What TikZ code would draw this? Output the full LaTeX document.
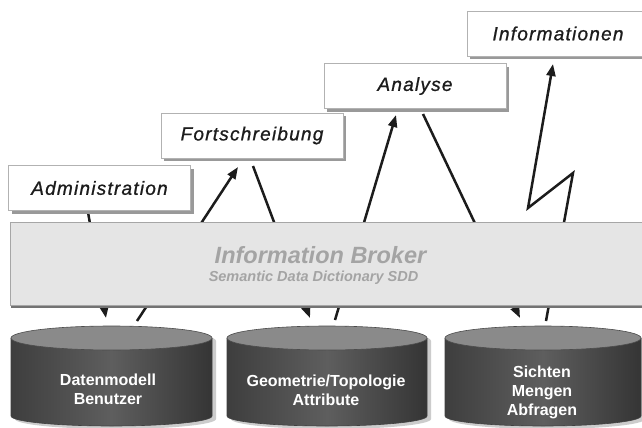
\documentclass[tikz,border=0pt]{standalone}
\usepackage{fontspec}
\setmainfont{Liberation Sans}
\newfontfamily\lblfont[LetterSpace=6.5, FakeBold=0.9]{Liberation Sans}
\usetikzlibrary{arrows.meta,shadows}

\definecolor{inkdark}{HTML}{1C1C1C}
\definecolor{brokerfill}{HTML}{E5E5E5}
\definecolor{brokertext}{HTML}{A4A4A4}
\definecolor{dbtop}{HTML}{8A8A8A}
\definecolor{dbmid}{HTML}{5E5E5E}
\definecolor{dbedge}{HTML}{3E3E3E}

% one database cylinder: #1 = centre x, #2 = half width
\newcommand\datastore[2]{%
  \fill[black!20, shift={(4,3)}]
    (#1-#2,338) -- (#1-#2,416)
    arc[start angle=180, end angle=360, x radius=#2pt, y radius=10pt]
    -- (#1+#2,338) arc[start angle=0, end angle=180, x radius=#2pt, y radius=12pt] -- cycle;
  \shade[left color=dbedge, right color=dbedge!85!black, middle color=dbmid]
    (#1-#2,338) -- (#1-#2,416)
    arc[start angle=180, end angle=360, x radius=#2pt, y radius=10pt]
    -- (#1+#2,338) -- cycle;
  \draw[black!75, line width=0.6pt]
    (#1-#2,338) -- (#1-#2,416)
    arc[start angle=180, end angle=360, x radius=#2pt, y radius=10pt]
    -- (#1+#2,338);
  \filldraw[fill=dbtop, draw=black!70, line width=0.6pt]
    (#1,338) ellipse[x radius=#2pt, y radius=12pt];
}

\begin{document}
\begin{tikzpicture}[x=1pt, y=-1pt,
  taskbox/.style={draw=black!30, line width=0.6pt, fill=white,
    minimum width=182pt, minimum height=45pt, inner sep=0pt,
    font=\lblfont\itshape\fontsize{19}{22}\selectfont, text=inkdark,
    drop shadow={shadow xshift=3pt, shadow yshift=-3pt, fill=black!40, opacity=1}},
  brokerbox/.style={draw=black!35, line width=0.6pt, fill=brokerfill,
    minimum width=650pt, minimum height=83pt, inner sep=0pt,
    drop shadow={shadow xshift=1pt, shadow yshift=-3pt, fill=black!55, opacity=1}},
  flow/.style={line width=2.5pt, draw=inkdark, line join=miter, miter limit=4},
  tip/.style={-{Triangle[length=12pt,width=9pt]}},
  dbtext/.style={font=\bfseries\fontsize{16}{19}\selectfont, text=white, align=center}
]
\useasboundingbox (0,0) rectangle (642,428);
\clip (0,0) rectangle (642,428);
\fill[white] (0,0) rectangle (642,428);

% connector end points
\coordinate (adm-out)  at (88,212);
\coordinate (db1-in)   at (106,318);
\coordinate (db1-out)  at (137,321);
\coordinate (fort-in)  at (238,167);
\coordinate (fort-out) at (253,166);
\coordinate (db2-in)   at (310,318);
\coordinate (db2-out)  at (335,320);
\coordinate (ana-in)   at (396,115);
\coordinate (ana-out)  at (423,114);
\coordinate (db3-in)   at (520,318);
\coordinate (db3-out)  at (546,321);
\coordinate (zz1)      at (573,173);
\coordinate (zz2)      at (528,208);
\coordinate (info-in)  at (553,64);

% connectors (partly hidden behind the broker band)
\draw[flow, tip] (adm-out) -- (db1-in);
\draw[flow, tip] (db1-out) -- (fort-in);
\draw[flow, tip] (fort-out) -- (db2-in);
\draw[flow, tip] (db2-out) -- (ana-in);
\draw[flow, tip] (ana-out) -- (db3-in);
\draw[flow, tip] (db3-out) -- (zz1) -- (zz2) -- (info-in);

% broker band
\node[brokerbox] (broker) at (335,263.5) {};
\node[font=\bfseries\itshape\fontsize{23.5}{26}\selectfont, text=brokertext]
  (bk-title) at (320.5,255) {Information Broker};
\node[font=\bfseries\itshape\fontsize{14.5}{17}\selectfont, text=brokertext]
  (bk-sub) at (313.5,278) {Semantic Data Dictionary SDD};

% task boxes
\node[taskbox] (adm)  at (99.5,188)  {Administration};
\node[taskbox] (fort) at (252,135.5) {Fortschreibung};
\node[taskbox] (ana)  at (415,86)    {Analyse};
\node[taskbox] (info) at (558,33.5)  {Informationen};

% databases
\datastore{111.5}{100.5}
\datastore{327}{100}
\datastore{543}{98}
\node[dbtext] (db1) at (108,389) {Datenmodell\\Benutzer};
\node[dbtext] (db2) at (326,390) {Geometrie/Topologie\\Attribute};
\node[dbtext] (db3) at (542,392) {Sichten\\Mengen\\Abfragen};
\end{tikzpicture}
\end{document}
